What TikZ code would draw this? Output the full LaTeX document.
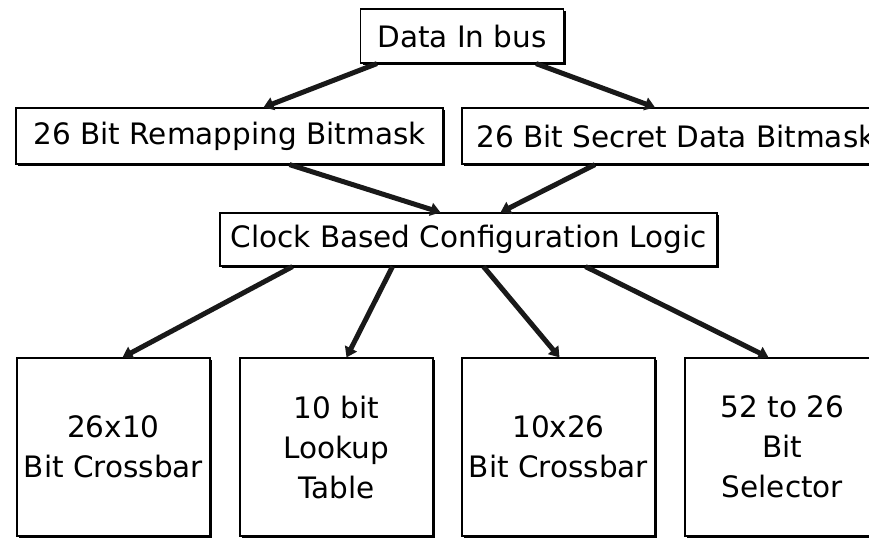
\documentclass[tikz,border=0pt]{standalone}
\usepackage{fontspec}
\setmainfont{DejaVu Sans}
\usetikzlibrary{arrows.meta,shadows}
\begin{document}
\begin{tikzpicture}[x=1pt,y=-1pt,
  box/.style={draw=black,line width=1.2pt,fill=white,inner sep=0pt,
    drop shadow={shadow xshift=2pt,shadow yshift=-2pt,fill=black,opacity=1},
    font=\fontsize{29.5}{40}\selectfont,align=center},
  conn/.style={line width=5pt,draw=black!90,-{Triangle[length=10pt,width=13pt]}}]
\useasboundingbox (0,0) rectangle (869,539);
\node[box,minimum width=203pt,minimum height=54pt] (data) at (462,36) {Data In bus};
\node[box,minimum width=427pt,minimum height=56pt] (remap) at (229.5,136) {26 Bit Remapping Bitmask};
\node[box,minimum width=428pt,minimum height=56pt] (secret) at (676,136) {26 Bit Secret Data Bitmask};
\node[box,minimum width=497pt,minimum height=53pt] (clock) at (468.5,239.5) {Clock Based Configuration Logic};
\node[box,minimum width=193pt,minimum height=178pt] (b1) at (113.5,447) {26x10\\Bit Crossbar};
\node[box,minimum width=193pt,minimum height=178pt] (b2) at (336.5,447) {10 bit\\Lookup\\Table};
\node[box,minimum width=193pt,minimum height=178pt] (b3) at (558.5,447) {10x26\\Bit Crossbar};
\node[box,minimum width=195pt,minimum height=178pt] (b4) at (782.5,447) {52 to 26\\Bit\\Selector};
\draw[conn] ([xshift=17pt]data.south west) -- ([xshift=34pt]remap.north);
\draw[conn] ([xshift=-28pt]data.south east) -- ([xshift=-21pt]secret.north);
\draw[conn] ([xshift=60pt]remap.south) -- ([xshift=-28pt]clock.north);
\draw[conn] ([xshift=-81pt]secret.south) -- ([xshift=32pt]clock.north);
\draw[conn] ([xshift=-176pt]clock.south) -- ([xshift=9pt]b1.north);
\draw[conn] ([xshift=-76pt]clock.south) -- ([xshift=10pt]b2.north);
\draw[conn] ([xshift=15pt]clock.south) -- ([xshift=1pt]b3.north);
\draw[conn] ([xshift=117pt]clock.south) -- ([xshift=-14pt]b4.north);
\end{tikzpicture}
\end{document}
